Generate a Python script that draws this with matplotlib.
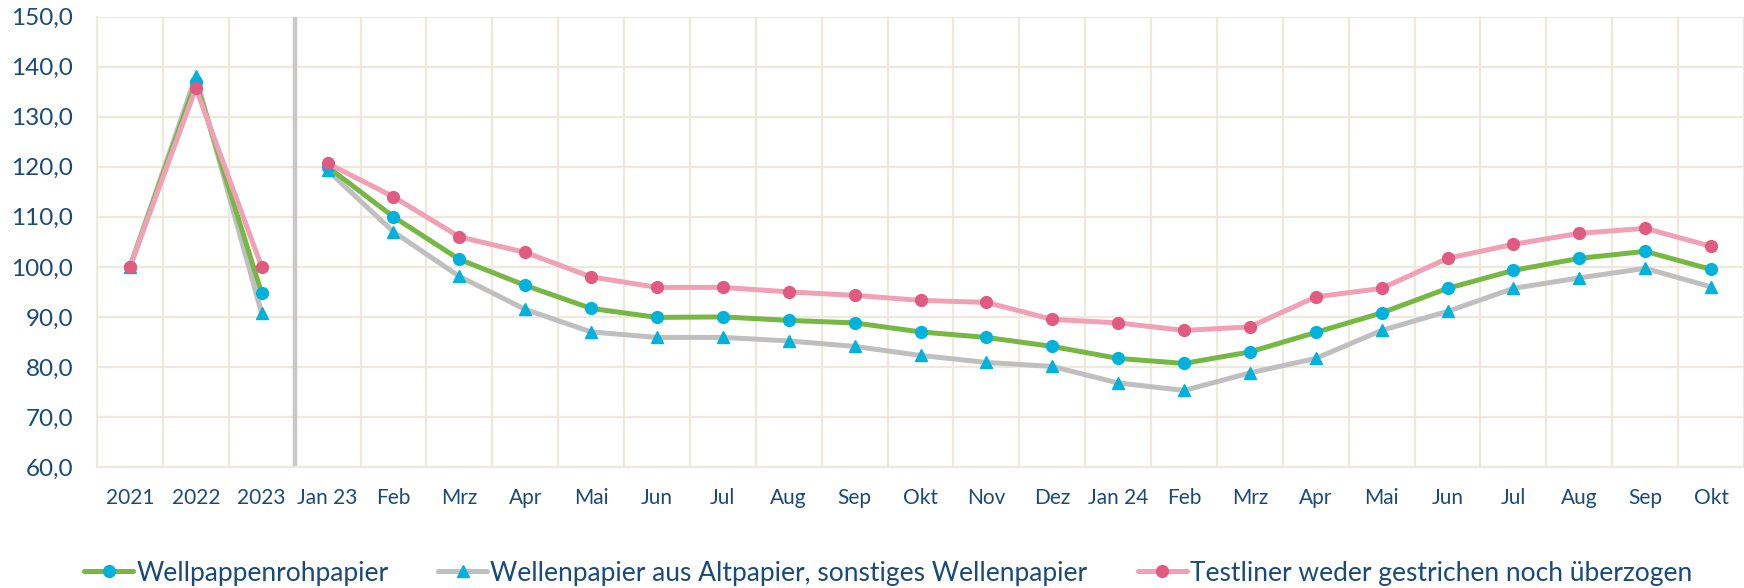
import matplotlib
matplotlib.use("Agg")
import matplotlib.pyplot as plt
import numpy as np

plt.rcParams['font.family'] = ['Lato', 'DejaVu Sans']

categories = ["2021", "2022", "2023", "Jan 23", "Feb", "Mrz", "Apr", "Mai", "Jun", "Jul",
              "Aug", "Sep", "Okt", "Nov", "Dez", "Jan 24", "Feb", "Mrz", "Apr", "Mai",
              "Jun", "Jul", "Aug", "Sep", "Okt"]

wellpappe = [100.0, 137.0, 94.7, 120.0, 110.0, 101.5, 96.3, 91.7, 89.9, 90.0,
             89.3, 88.8, 87.0, 85.9, 84.1, 81.7, 80.7, 83.0, 86.9, 90.8,
             95.7, 99.3, 101.7, 103.1, 99.5]
wellenpapier = [100.0, 138.1, 90.7, 119.3, 107.0, 98.1, 91.5, 87.0, 85.9, 85.9,
                85.2, 84.1, 82.3, 80.9, 80.1, 76.8, 75.3, 78.8, 81.7, 87.3,
                91.1, 95.7, 97.8, 99.7, 96.0]
testliner = [100.0, 135.7, 100.0, 120.7, 114.0, 106.0, 102.9, 98.0, 95.9, 95.9,
             95.0, 94.3, 93.3, 92.9, 89.5, 88.8, 87.3, 88.0, 94.0, 95.7,
             101.7, 104.5, 106.7, 107.7, 104.1]

names = ["Wellpappenrohpapier", "Wellenpapier aus Altpapier, sonstiges Wellenpapier",
         "Testliner weder gestrichen noch überzogen"]

yticks = [60, 70, 80, 90, 100, 110, 120, 130, 140, 150]

text_col = "#1A4A7A"
grid_col = "#EDEADC"
cyan = "#00B2DC"

fig = plt.figure(figsize=(17.44, 5.88), dpi=100)
ax = fig.add_axes([97/1744, (588-467)/588, 1 - 97/1744, (467-16.7)/588])

x = np.arange(len(categories))
n_years = 3

styles = [
    (wellenpapier, "#BFBFBF", "^", cyan, cyan, names[1], 2),
    (wellpappe, "#76B843", "o", cyan, cyan, names[0], 3),
    (testliner, "#F0A1B6", "o", "#E05A82", "#E05A82", names[2], 4),
]
handles = {}
for vals, lc, mk, mfc, mec, name, z in styles:
    v = np.array(vals)
    h, = ax.plot(x[:n_years], v[:n_years], color=lc, lw=3.6, marker=mk, ms=8.5,
                 mfc=mfc, mec=mec, zorder=z, label=name, solid_capstyle='round')
    ax.plot(x[n_years:], v[n_years:], color=lc, lw=3.6, marker=mk, ms=8.5,
            mfc=mfc, mec=mec, zorder=z, solid_capstyle='round')
    handles[name] = h

ax.set_xlim(-0.5, len(categories) - 0.5)
ax.set_ylim(60, 150)
ax.set_yticks(yticks)
ax.set_yticklabels([f"{t:.1f}".replace(".", ",") for t in yticks])
ax.set_xticks(x)
ax.set_xticklabels(categories)
ax.set_xticks(np.arange(-0.5, len(categories), 1), minor=True)

ax.grid(False)
ax.yaxis.grid(True, color=grid_col, lw=1.6, zorder=0)
ax.xaxis.grid(True, which='minor', color=grid_col, lw=1.6, zorder=0)
ax.set_axisbelow(True)
for s in ["top", "right"]:
    ax.spines[s].set_visible(False)
for s in ["left", "bottom"]:
    ax.spines[s].set_color(grid_col)
    ax.spines[s].set_linewidth(1.6)

ax.axvline(n_years - 0.5, color="#C8C8C8", lw=3.2, zorder=1)

ax.tick_params(axis='both', which='both', length=0)
ax.tick_params(axis='x', labelsize=15, labelcolor=text_col, pad=15)
ax.tick_params(axis='y', labelsize=17.5, labelcolor=text_col, pad=17)

leg = fig.legend([handles[n] for n in names], names, loc='center',
                 bbox_to_anchor=(888/1744, 1 - 573/588), ncol=3, frameon=False,
                 fontsize=19, handlelength=1.86, handletextpad=0.11, columnspacing=1.9,
                 borderpad=0, labelcolor=text_col)

fig.savefig("out.png", dpi=100)
